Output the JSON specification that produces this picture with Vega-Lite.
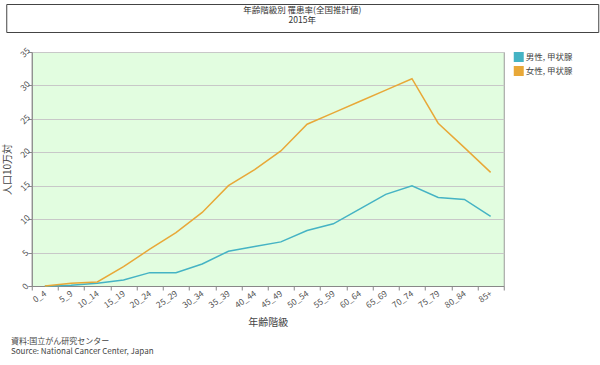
{
  "$schema": "https://vega.github.io/schema/vega-lite/v6.json",
  "padding": {"left": 2, "top": 3, "right": 2, "bottom": 2},
  "background": "white",
  "spacing": 12,
  "center": true,
  "bounds": "full",
  "resolve": {"legend": {"color": "independent"}},
  "title": {
    "text": ["資料:国立がん研究センター", "Source: National Cancer Center, Japan"],
    "orient": "bottom",
    "anchor": "start",
    "frame": "group",
    "fontSize": 8,
    "fontWeight": "normal",
    "color": "#444",
    "lineHeight": 10,
    "offset": 10,
    "dx": 5
  },
  "config": {
    "font": "Noto Sans CJK JP",
    "view": {"stroke": null}
  },
  "vconcat": [
    {
      "width": 592,
      "height": 28,
      "view": {"stroke": "#444", "strokeWidth": 1, "fill": "white"},
      "data": {"values": [{"t": "年齢階級別 罹患率(全国推計値)\n2015年"}]},
      "mark": {"type": "text", "fontSize": 8.5, "lineBreak": "\n", "lineHeight": 9.5, "color": "#333", "baseline": "middle", "dy": -8},
      "encoding": {"text": {"field": "t"}}
    },
    {
      "width": 472,
      "height": 234,
      "view": {"stroke": "#999", "fill": "#e2fde0"},
      "data": {
        "values": [
          {"age": "0_4", "sex": "男性, 甲状腺", "rate": 0.0},
          {"age": "5_9", "sex": "男性, 甲状腺", "rate": 0.1},
          {"age": "10_14", "sex": "男性, 甲状腺", "rate": 0.4},
          {"age": "15_19", "sex": "男性, 甲状腺", "rate": 0.9},
          {"age": "20_24", "sex": "男性, 甲状腺", "rate": 2.0},
          {"age": "25_29", "sex": "男性, 甲状腺", "rate": 2.0},
          {"age": "30_34", "sex": "男性, 甲状腺", "rate": 3.3},
          {"age": "35_39", "sex": "男性, 甲状腺", "rate": 5.2},
          {"age": "40_44", "sex": "男性, 甲状腺", "rate": 5.9},
          {"age": "45_49", "sex": "男性, 甲状腺", "rate": 6.6},
          {"age": "50_54", "sex": "男性, 甲状腺", "rate": 8.3},
          {"age": "55_59", "sex": "男性, 甲状腺", "rate": 9.3},
          {"age": "60_64", "sex": "男性, 甲状腺", "rate": 11.5},
          {"age": "65_69", "sex": "男性, 甲状腺", "rate": 13.7},
          {"age": "70_74", "sex": "男性, 甲状腺", "rate": 15.0},
          {"age": "75_79", "sex": "男性, 甲状腺", "rate": 13.25},
          {"age": "80_84", "sex": "男性, 甲状腺", "rate": 12.95},
          {"age": "85+", "sex": "男性, 甲状腺", "rate": 10.4},
          {"age": "0_4", "sex": "女性, 甲状腺", "rate": 0.0},
          {"age": "5_9", "sex": "女性, 甲状腺", "rate": 0.4},
          {"age": "10_14", "sex": "女性, 甲状腺", "rate": 0.6},
          {"age": "15_19", "sex": "女性, 甲状腺", "rate": 2.9},
          {"age": "20_24", "sex": "女性, 甲状腺", "rate": 5.5},
          {"age": "25_29", "sex": "女性, 甲状腺", "rate": 8.0},
          {"age": "30_34", "sex": "女性, 甲状腺", "rate": 11.0},
          {"age": "35_39", "sex": "女性, 甲状腺", "rate": 15.0},
          {"age": "40_44", "sex": "女性, 甲状腺", "rate": 17.4},
          {"age": "45_49", "sex": "女性, 甲状腺", "rate": 20.2},
          {"age": "50_54", "sex": "女性, 甲状腺", "rate": 24.2},
          {"age": "55_59", "sex": "女性, 甲状腺", "rate": 25.9},
          {"age": "60_64", "sex": "女性, 甲状腺", "rate": 27.6},
          {"age": "65_69", "sex": "女性, 甲状腺", "rate": 29.3},
          {"age": "70_74", "sex": "女性, 甲状腺", "rate": 31.0},
          {"age": "75_79", "sex": "女性, 甲状腺", "rate": 24.35},
          {"age": "80_84", "sex": "女性, 甲状腺", "rate": 20.7},
          {"age": "85+", "sex": "女性, 甲状腺", "rate": 17.0}
        ]
      },
      "mark": {"type": "line", "strokeWidth": 1.5},
      "encoding": {
        "x": {
          "field": "age",
          "type": "ordinal",
          "sort": null,
          "scale": {"type": "band", "paddingInner": 0, "paddingOuter": 0},
          "axis": {
            "title": "年齢階級",
            "titleFontSize": 10,
            "titleFontWeight": "normal",
            "titleColor": "#444",
            "titlePadding": 8,
            "titleX": 236,
            "labelAngle": -35,
            "labelAlign": "right",
            "labelBaseline": "middle",
            "labelFontSize": 8.5,
            "labelColor": "#555",
            "domainColor": "#888",
            "tickColor": "#888",
            "tickBand": "extent",
            "tickSize": 4,
            "grid": false
          }
        },
        "y": {
          "field": "rate",
          "type": "quantitative",
          "scale": {"domain": [0, 35]},
          "axis": {
            "title": "人口10万対",
            "titleFontSize": 10,
            "titleFontWeight": "normal",
            "titleColor": "#444",
            "titlePadding": 6,
            "values": [0, 5, 10, 15, 20, 25, 30, 35],
            "labelAngle": -45,
            "labelFontSize": 8.5,
            "labelColor": "#555",
            "labelAlign": "center",
            "labelPadding": 3,
            "domainColor": "#888",
            "tickColor": "#888",
            "tickSize": 4,
            "gridColor": "#c8c8c8"
          }
        },
        "color": {
          "field": "sex",
          "type": "nominal",
          "sort": ["男性, 甲状腺", "女性, 甲状腺"],
          "scale": {"range": ["#45b3c4", "#e8a838"]},
          "legend": {
            "title": null,
            "orient": "right",
            "offset": 10,
            "symbolType": "square",
            "symbolSize": 100,
            "symbolStrokeWidth": 0,
            "symbolOpacity": 1,
            "labelFontSize": 8.5,
            "labelColor": "#444",
            "labelOffset": 2,
            "rowPadding": 4,
            "encode": {"symbols": {"update": {"fill": {"scale": "color", "field": "value"}}}}
          }
        }
      }
    }
  ]
}
